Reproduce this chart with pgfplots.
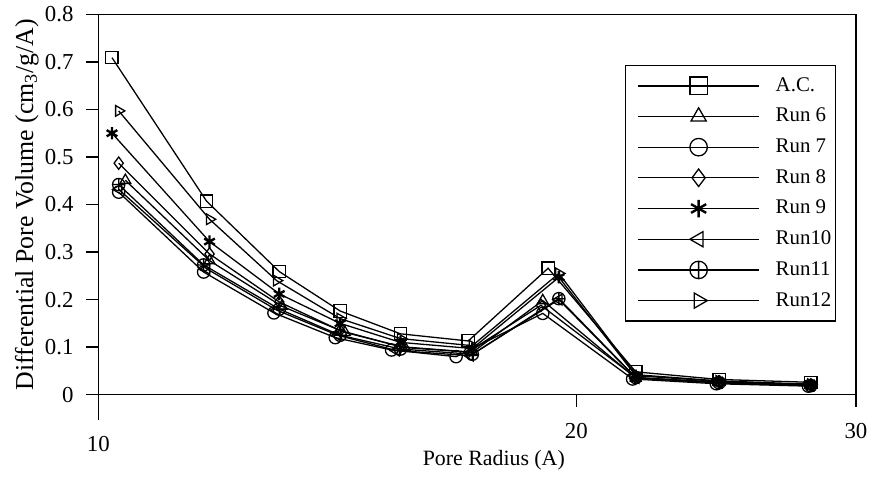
\documentclass[border=0pt]{standalone}
\usepackage{fontspec}
\setmainfont{Liberation Serif}
\usepackage{pgfplots}
\pgfplotsset{compat=1.18}

\begin{document}
\begin{tikzpicture}
\begin{axis}[
  scale only axis,
  width=381.5pt, height=191.5pt,
  xmode=log, xmin=10, xmax=30,
  ymin=0, ymax=0.8,
  xtick={20,30}, xticklabels={20,30},
  extra x ticks={10}, extra x tick labels={10},
  extra x tick style={major tick length=12.5pt},
  minor xtick={},
  ytick={0,0.1,0.2,0.3,0.4,0.5,0.6,0.7,0.8},
  yticklabel style={/pgf/number format/fixed,/pgf/number format/precision=1, xshift=-3pt},
  xticklabel style={yshift=-5pt},
  /pgf/number format/assume math mode=true,
  tick align=outside, major tick length=6pt,
  xtick pos=bottom, ytick pos=left,
  axis line style={line width=0.75pt},
  every tick/.style={black, line width=0.7pt},
  tick label style={font=\fontsize{11.5}{13}\selectfont},
  xlabel={Pore Radius (A)},
  ylabel={Differential Pore Volume (cm\textsubscript{3}/g/A)},
  every axis x label/.style={at={(axis description cs:0.522,-0.172)}, anchor=center, font=\fontsize{11}{13}\selectfont},
  every axis y label/.style={at={(axis description cs:-0.0944,0.5)}, rotate=90, anchor=center, font=\fontsize{13}{15}\selectfont},
  every axis plot/.append style={black, line width=0.65pt, mark size=3.1pt},
  legend style={at={(0.695,0.867)}, anchor=north west, draw=black, line width=0.6pt,
    font=\fontsize{10.5}{12}\selectfont, row sep=3pt, inner xsep=0pt, inner ysep=4pt,
    cells={anchor=west}},
  legend image code/.code={
    \path (-6pt,0pt) (67pt,0pt);
    \draw[mark repeat=2,mark phase=2,mark size=4.4pt] plot coordinates {(0pt,0pt) (30.5pt,0pt) (61pt,0pt)};},
]
% A.C.
\addplot[mark=square, mark options={fill=none}] coordinates {
 (10.2,0.709) (11.7,0.407) (13.0,0.259) (14.2,0.176) (15.5,0.128) (17.1,0.113) (19.2,0.266) (21.8,0.048) (24.6,0.032) (28.1,0.026)};
% Run 6
\addplot[mark=triangle, mark options={fill=none}] coordinates {
 (10.4,0.451) (11.75,0.282) (13.05,0.186) (14.3,0.131) (15.6,0.099) (17.2,0.089) (19.05,0.198) (21.8,0.035) (24.6,0.026) (28.1,0.020)};
% Run 7
\addplot[mark=o, mark options={fill=none}] coordinates {
 (10.3,0.426) (11.65,0.258) (12.9,0.172) (14.1,0.120) (15.3,0.094) (16.8,0.080) (19.05,0.171) (21.7,0.033) (24.5,0.023) (28.0,0.018)};
% Run 8
\addplot[mark=diamond, mark options={fill=none}] coordinates {
 (10.3,0.487) (11.75,0.296) (13.0,0.195) (14.2,0.135) (15.5,0.101) (17.1,0.090) (19.0,0.188) (21.8,0.036) (24.6,0.026) (28.1,0.020)};
% Run 9
\addplot[mark=asterisk, mark options={line width=1.2pt}] coordinates {
 (10.2,0.550) (11.75,0.322) (13.0,0.212) (14.2,0.150) (15.5,0.110) (17.2,0.097) (19.5,0.247) (21.8,0.040) (24.6,0.028) (28.1,0.021)};
% Run10
\addplot[mark=triangle, mark options={fill=none, rotate=90}] coordinates {
 (10.3,0.432) (11.7,0.265) (12.95,0.178) (14.15,0.125) (15.4,0.093) (17.15,0.082) (19.5,0.200) (21.8,0.035) (24.6,0.025) (28.1,0.019)};
% Run11
\addplot[mark=oplus, mark options={fill=none}] coordinates {
 (10.3,0.442) (11.65,0.273) (13.0,0.180) (14.2,0.125) (15.5,0.096) (17.2,0.085) (19.5,0.202) (21.8,0.036) (24.6,0.025) (28.1,0.019)};
% Run12
\addplot[mark=triangle, mark options={fill=none, rotate=-90}] coordinates {
 (10.3,0.597) (11.75,0.369) (12.95,0.240) (14.2,0.160) (15.5,0.118) (17.2,0.103) (19.5,0.255) (21.8,0.042) (24.6,0.029) (28.1,0.022)};
\legend{A.C., Run 6, Run 7, Run 8, Run 9, Run10, Run11, Run12}
\end{axis}
% left spine runs on below the x axis, as in the original
\draw[line width=0.75pt] (current axis.south west) -- ++(0pt,-12.5pt);
\path (current axis.south west) ++(-49.5pt,0pt);
\end{tikzpicture}
\end{document}
